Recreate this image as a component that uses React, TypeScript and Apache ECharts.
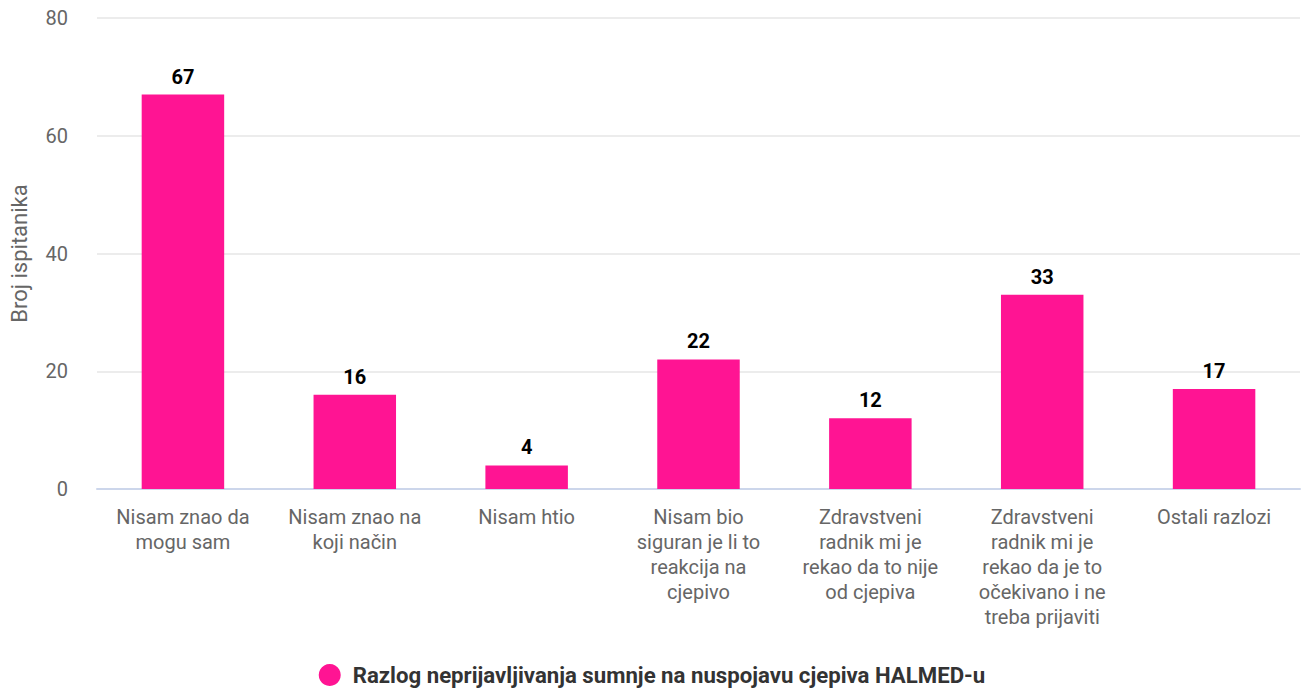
import React, { useEffect, useRef } from "react";
import * as echarts from "echarts";

const categories = [
  "Nisam znao da\nmogu sam",
  "Nisam znao na\nkoji način",
  "Nisam htio",
  "Nisam bio\nsiguran je li to\nreakcija na\ncjepivo",
  "Zdravstveni\nradnik mi je\nrekao da to nije\nod cjepiva",
  "Zdravstveni\nradnik mi je\nrekao da je to\nočekivano i ne\ntreba prijaviti",
  "Ostali razlozi",
];
const values = [67, 16, 4, 22, 12, 33, 17];
const seriesName = "Razlog neprijavljivanja sumnje na nuspojavu cjepiva HALMED-u";
const yAxisName = "Broj ispitanika";

export default function App() {
  const ref = useRef<HTMLDivElement>(null);
  useEffect(() => {
    document.body.style.margin = "0";
    const chart = echarts.init(ref.current!, undefined, { renderer: "svg" });
    chart.setOption({
      animation: false,
      textStyle: { fontFamily: "Roboto" },
      grid: { left: 96, right: 4, top: 18, bottom: 202 },
      legend: {
        bottom: 0,
        left: "center",
        icon: "circle",
        itemWidth: 22,
        itemHeight: 22,
        itemGap: 12,
        textStyle: {
          fontSize: 22.2,
          fontWeight: "bold",
          color: "#333",
          fontFamily: "Roboto",
          padding: [0, 0, 0, 7],
        },
        data: [seriesName],
      },
      xAxis: {
        type: "category",
        data: categories,
        axisTick: { show: false },
        axisLine: { lineStyle: { color: "#ccd6eb", width: 2 } },
        axisLabel: {
          interval: 0,
          color: "#666",
          fontSize: 20,
          lineHeight: 25,
          margin: 15,
          fontFamily: "Roboto",
        },
      },
      yAxis: {
        type: "value",
        min: 0,
        max: 80,
        interval: 20,
        name: yAxisName,
        nameLocation: "middle",
        nameGap: 67,
        nameTextStyle: { color: "#666", fontSize: 22, fontFamily: "Roboto" },
        axisLabel: { color: "#666", fontSize: 20, margin: 29, fontFamily: "Roboto" },
        splitLine: { lineStyle: { color: "#e6e6e6", width: 1.5 } },
      },
      series: [
        {
          name: seriesName,
          type: "bar",
          data: values,
          barWidth: "48%",
          itemStyle: { color: "#ff1493" },
          label: {
            show: true,
            position: "top",
            distance: 8,
            color: "#000",
            fontWeight: "bold",
            fontSize: 20,
            fontFamily: "Roboto",
          },
        },
      ],
    });
    return () => chart.dispose();
  }, []);
  return <div ref={ref} style={{ width: 1304, height: 691, position: "absolute", left: 0, top: 0 }} />;
}
